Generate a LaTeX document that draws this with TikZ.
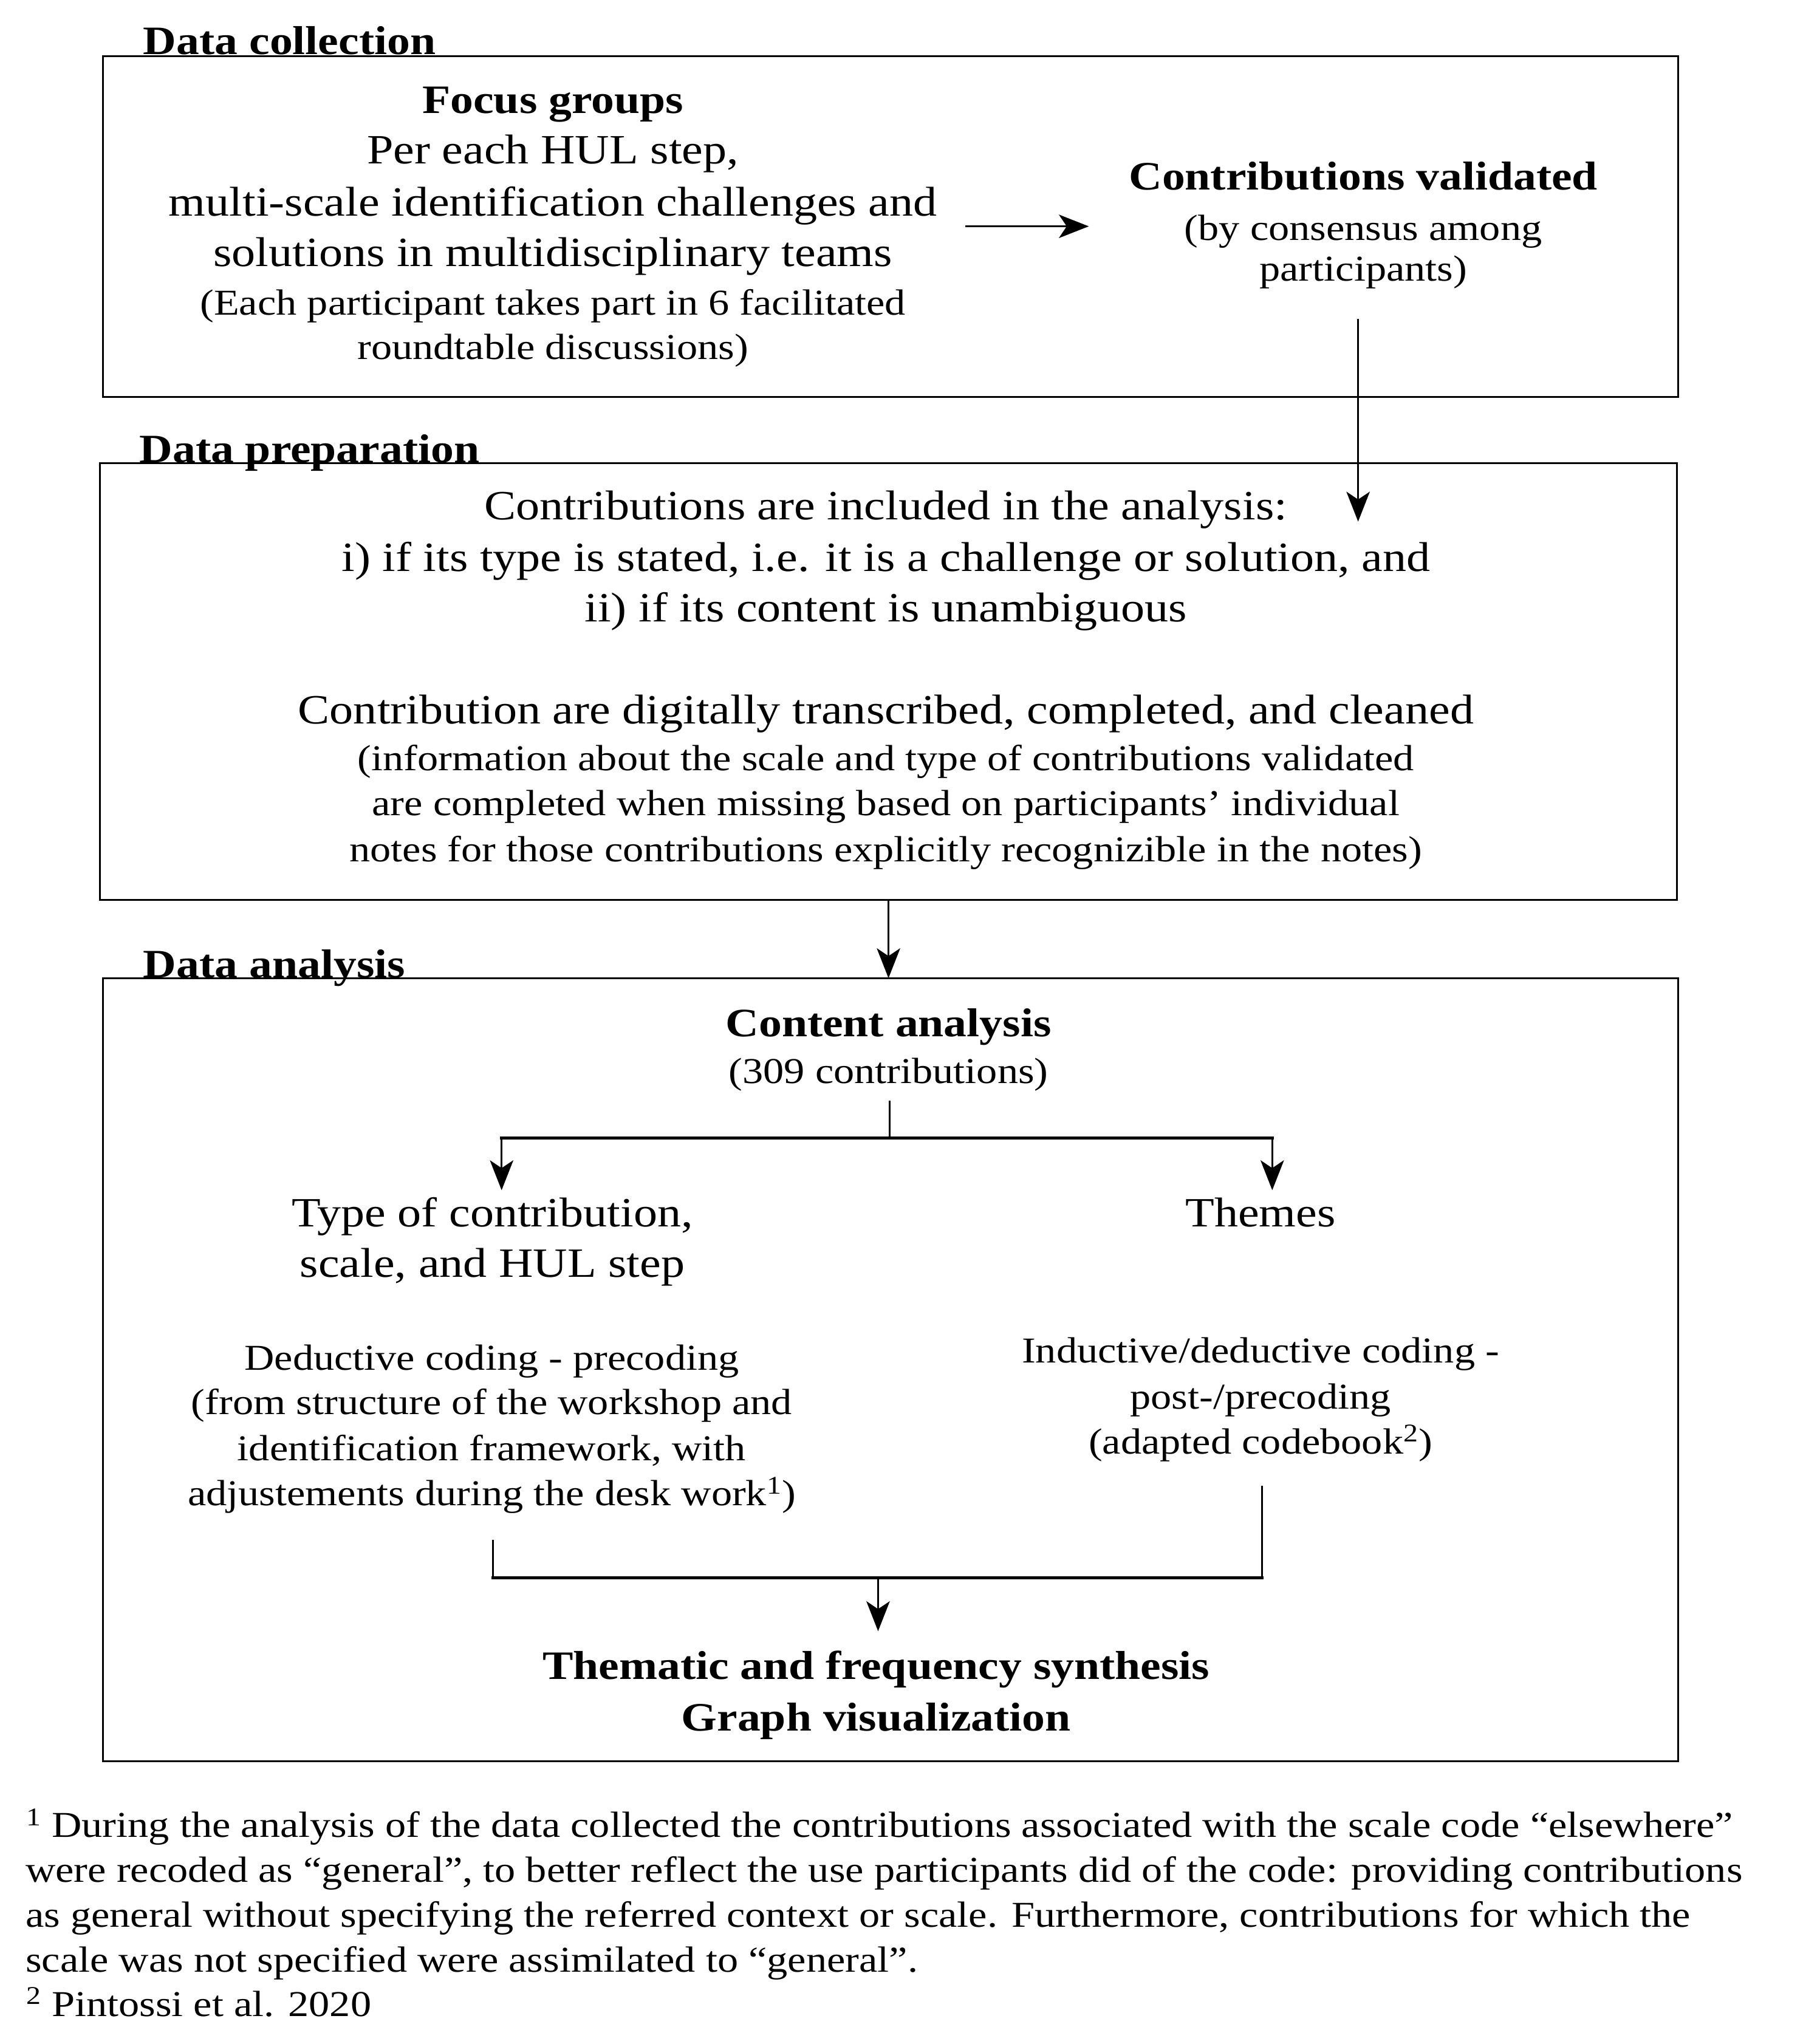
\documentclass[tikz,border=0pt]{standalone}
\usepackage{fontspec}
\setmainfont[FakeStretch=1.14]{Liberation Serif}
\usetikzlibrary{arrows.meta}
\begin{document}
\begin{tikzpicture}[x=1pt,y=-1pt,
  box/.style={draw, line width=1.4pt, minimum width=#1, anchor=north west, inner sep=0, outer sep=0},
  ln/.style={line width=1.3pt},
  hl/.style={line width=2.4pt, line cap=rect},
  arr/.style={line width=1.3pt, -{Stealth[length=23pt,width=18pt,inset=6pt]}},
  mt/.style={anchor=base, inner sep=0, font=\fontsize{32}{39}\selectfont},
  st/.style={anchor=base, inner sep=0, font=\fontsize{28}{35}\selectfont},
  bt/.style={anchor=base, inner sep=0, font=\bfseries\fontsize{31}{39}\selectfont},
  ht/.style={anchor=base west, inner sep=0, font=\bfseries\fontsize{31}{39}\selectfont},
  ft/.style={anchor=base west, inner sep=0, font=\fontsize{28}{35}\selectfont}]
\useasboundingbox[fill=white] (0,0) rectangle (1386,1571.4);

% boxes
\node[box=1211pt, minimum height=262pt] (B1) at (79,43) {};
\node[box=1212pt, minimum height=336pt] (B2) at (77,356) {};
\node[box=1211pt, minimum height=602pt] (B3) at (79,752) {};

% headings
\node[ht] (H1) at (110,42) {Data collection};
\node[ht] (H2) at (107,355.5) {Data preparation};
\node[ht] (H3) at (110,751.5) {Data analysis};

% Data collection
\node[bt] (fg0) at (425,87) {Focus groups};
\node[mt] (fg1) at (425,126) {Per each HUL step,};
\node[mt] (fg2) at (425,166) {multi-scale identification challenges and};
\node[mt] (fg3) at (425,205) {solutions in multidisciplinary teams};
\node[st] (fg4) at (425,242) {(Each participant takes part in 6 facilitated};
\node[st] (fg5) at (425,276) {roundtable discussions)};

\node[bt] (cv0) at (1048,146) {Contributions validated};
\node[st] (cv1) at (1048,184.5) {(by consensus among};
\node[st] (cv2) at (1048,216) {participants)};

\coordinate (h1s) at (742,174);
\coordinate (h1e) at (837,174);
\draw[arr] (h1s) -- (h1e);

\coordinate (v1s) at (1044,245);
\coordinate (v1e) at (1044,401);
\draw[arr] (v1s) -- (v1e);

% Data preparation
\node[mt] (dp1) at (681,399.5) {Contributions are included in the analysis:};
\node[mt] (dp2) at (681,439) {i) if its type is stated, i.e. it is a challenge or solution, and};
\node[mt] (dp3) at (681,478) {ii) if its content is unambiguous};
\node[mt] (dp4) at (681,556.5) {Contribution are digitally transcribed, completed, and cleaned};
\node[st] (dp5) at (681,592.5) {(information about the scale and type of contributions validated};
\node[st] (dp6) at (681,627) {are completed when missing based on participants’ individual};
\node[st] (dp7) at (681,662.5) {notes for those contributions explicitly recognizible in the notes)};

\draw[arr] (B2.south) -- (B2.south |- B3.north);

% Data analysis
\node[bt] (ca0) at (683,797) {Content analysis};
\node[st] (ca1) at (683,833) {(309 contributions)};

\coordinate (cs) at (684,846);
\coordinate (cb) at (684,875);
\coordinate (bl) at (385.6,875);
\coordinate (br) at (978,875);
\coordinate (tl) at (385.6,915);
\coordinate (tr) at (978,915);
\draw[ln] (cs) -- (cb);
\draw[hl] (bl) -- (br);
\draw[arr] (bl) -- (tl);
\draw[arr] (br) -- (tr);

\node[mt] (ty1) at (378.5,943) {Type of contribution,};
\node[mt] (ty2) at (378.5,982) {scale, and HUL step};
\node[mt] (th1) at (969,943) {Themes};

\node[st] (dc1) at (378,1053.5) {Deductive coding - precoding};
\node[st] (dc2) at (378,1087.5) {(from structure of the workshop and};
\node[st] (dc3) at (378,1123) {identification framework, with};
\node[st] (dc4) at (378,1157.5) {adjustements during the desk work\textsuperscript{1})};

\node[st] (ic1) at (969,1047.5) {Inductive/deductive coding -};
\node[st] (ic2) at (969,1083) {post-/precoding};
\node[st] (ic3) at (969,1117.5) {(adapted codebook\textsuperscript{2})};

\coordinate (ml) at (379,1184);
\coordinate (mlb) at (379,1213);
\coordinate (mr) at (970,1142);
\coordinate (mrb) at (970,1213);
\coordinate (ms) at (675,1213);
\coordinate (me) at (675,1254);
\draw[ln] (ml) -- (mlb);
\draw[ln] (mr) -- (mrb);
\draw[hl] (mlb) -- (mrb);
\draw[arr] (ms) -- (me);

\node[bt] (sy1) at (673.5,1291) {Thematic and frequency synthesis};
\node[bt] (sy2) at (673.5,1330.5) {Graph visualization};

% footnotes
\node[ft] (fn1) at (20,1412.5) {\textsuperscript{1} During the analysis of the data collected the contributions associated with the scale code “elsewhere”};
\node[ft] (fn2) at (19.5,1447) {were recoded as “general”, to better reflect the use participants did of the code: providing contributions};
\node[ft] (fn3) at (19.5,1481.5) {as general without specifying the referred context or scale. Furthermore, contributions for which the};
\node[ft] (fn4) at (19.5,1516) {scale was not specified were assimilated to “general”.};
\node[ft] (fn5) at (20,1550) {\textsuperscript{2} Pintossi et al. 2020};
\end{tikzpicture}
\end{document}
